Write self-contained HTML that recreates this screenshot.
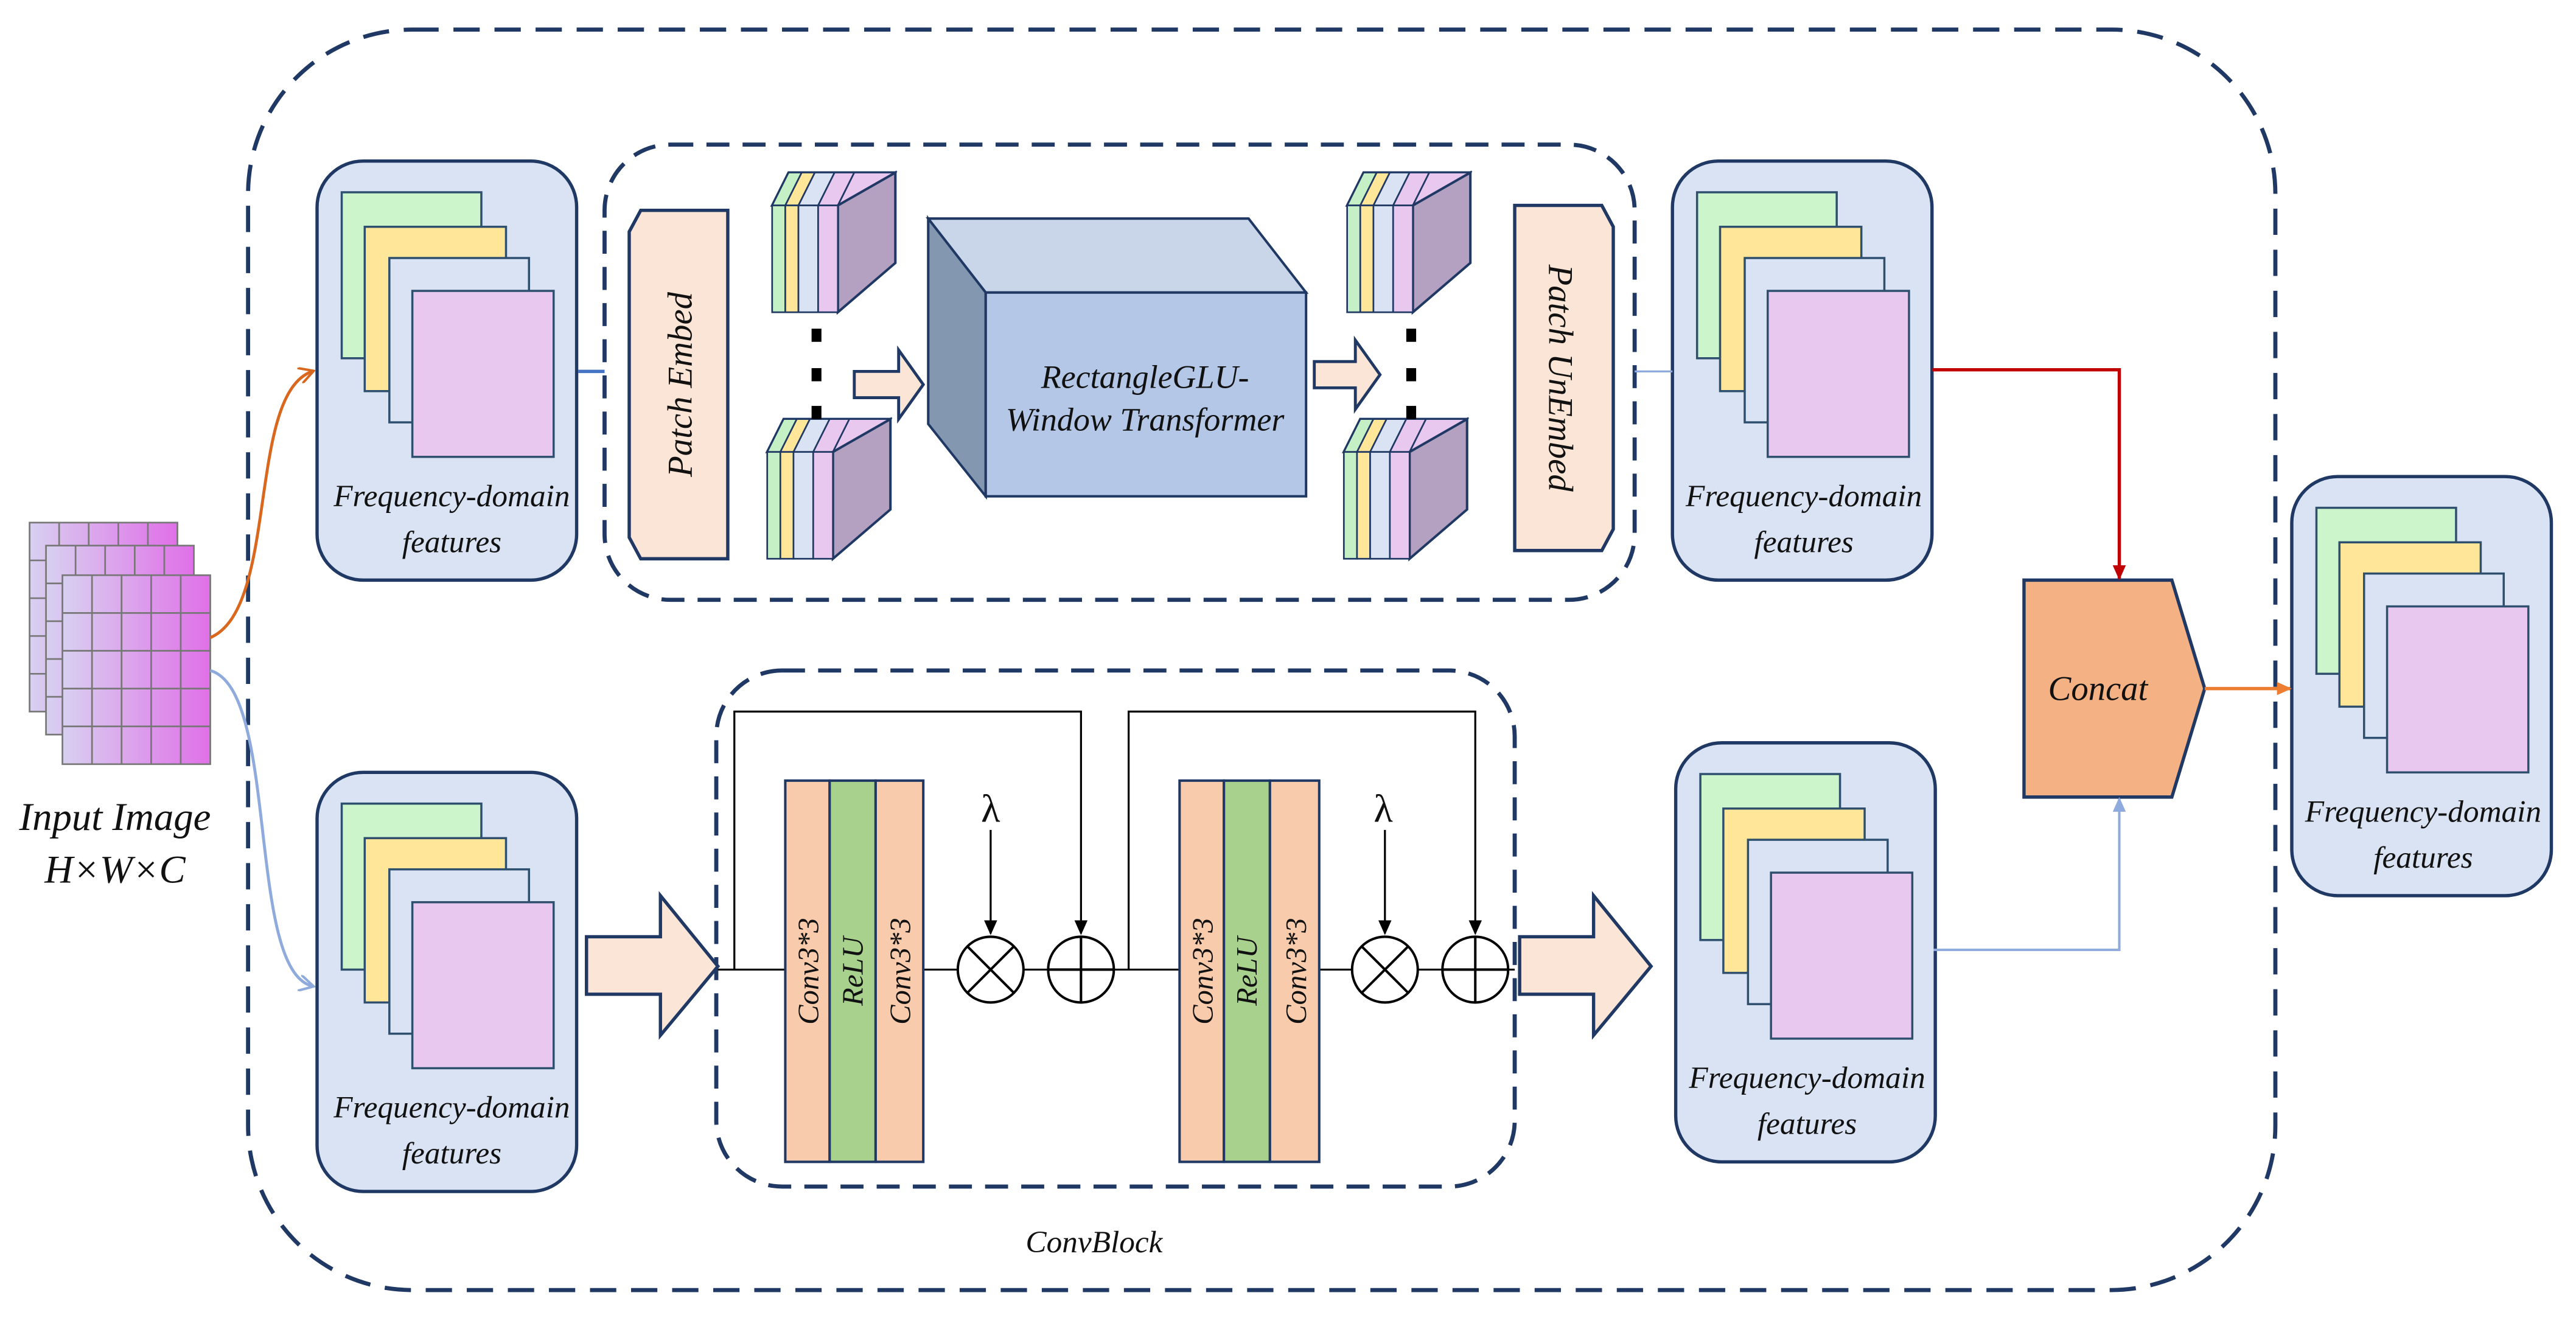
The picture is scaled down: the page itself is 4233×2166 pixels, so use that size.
<!DOCTYPE html>
<html><head><meta charset="utf-8"><style>
html,body{margin:0;padding:0;background:#fff;width:4233px;height:2166px;overflow:hidden}
svg{display:block}
text{font-family:"Liberation Serif",serif;font-style:italic;fill:#111}
</style></head><body>
<svg width="4233" height="2166" viewBox="0 0 1568 802" preserveAspectRatio="none">
<defs>
<marker id="ao" markerWidth="10" markerHeight="10" refX="8" refY="5" orient="auto" markerUnits="userSpaceOnUse"><path d="M0,0 L9,5 L0,10" fill="none" stroke="#d9681e" stroke-width="1.5"/></marker>
<marker id="ab" markerWidth="10" markerHeight="10" refX="8" refY="5" orient="auto" markerUnits="userSpaceOnUse"><path d="M0,0 L9,5 L0,10" fill="none" stroke="#8faadc" stroke-width="1.5"/></marker>
<marker id="ar" markerWidth="10" markerHeight="10" refX="8" refY="5" orient="auto" markerUnits="userSpaceOnUse"><path d="M0,1 L9,5 L0,9z" fill="#c00000"/></marker>
<marker id="ak" markerWidth="10" markerHeight="10" refX="8" refY="5" orient="auto" markerUnits="userSpaceOnUse"><path d="M0,1 L9,5 L0,9z" fill="#000"/></marker>
<marker id="abf" markerWidth="10" markerHeight="10" refX="8" refY="5" orient="auto" markerUnits="userSpaceOnUse"><path d="M0,1 L9,5 L0,9z" fill="#8faadc"/></marker>
<marker id="aof" markerWidth="10" markerHeight="10" refX="8" refY="5" orient="auto" markerUnits="userSpaceOnUse"><path d="M0,1 L9,5 L0,9z" fill="#ed7d31"/></marker>
<g id="feat">
<rect x="0" y="0" width="158" height="255" rx="28" fill="#dae3f3" stroke="#1f3864" stroke-width="2"/>
<rect x="15" y="19" width="85" height="101" fill="#ccf5cc" stroke="#2f4f6f" stroke-width="1.3"/>
<rect x="29" y="40" width="86" height="100" fill="#ffe699" stroke="#2f4f6f" stroke-width="1.3"/>
<rect x="44" y="59" width="85" height="100" fill="#dae3f3" stroke="#2f4f6f" stroke-width="1.3"/>
<rect x="58" y="79" width="86" height="101" fill="#e9c8f0" stroke="#2f4f6f" stroke-width="1.3"/>
</g>
<g id="cube">
<polygon points="0,20 10,0 75,0 65,20" fill="#ccc" stroke="#1f3864" stroke-width="1.5"/>
<polygon points="0,20 10,0 18,0 8,20" fill="#c5f0c5" stroke="#1f3864"/>
<polygon points="8,20 18,0 26,0 16,20" fill="#ffe699" stroke="#1f3864"/>
<polygon points="16,20 26,0 38,0 28,20" fill="#dae3f3" stroke="#1f3864"/>
<polygon points="28,20 38,0 50,0 40,20" fill="#e9c8f0" stroke="#1f3864"/>
<polygon points="40,20 50,0 75,0 65,20" fill="#e9c8f0" stroke="#1f3864"/>
<polygon points="40,20 75,0 75,55 40,85" fill="#b4a0c0" stroke="#1f3864" stroke-width="1.5"/>
<rect x="0" y="20" width="8" height="65" fill="#c5f0c5" stroke="#1f3864"/>
<rect x="8" y="20" width="8" height="65" fill="#ffe699" stroke="#1f3864"/>
<rect x="16" y="20" width="12" height="65" fill="#dae3f3" stroke="#1f3864"/>
<rect x="28" y="20" width="12" height="65" fill="#e9c8f0" stroke="#1f3864"/>
</g>
<linearGradient id="pg" x1="0" x2="1"><stop offset="0" stop-color="#d8d0f0"/><stop offset="1" stop-color="#e070e8"/></linearGradient>
<g id="grid">
<rect x="0" y="0" width="90" height="115" fill="url(#pg)" stroke="#777" stroke-width="1"/>
<path d="M18,0V115M36,0V115M54,0V115M72,0V115M0,23H90M0,46H90M0,69H90M0,92H90" stroke="#777" stroke-width="1"/>
</g>
</defs>

<!-- outer dashed -->
<rect x="151" y="18" width="1234" height="767" rx="100" fill="none" stroke="#1f3864" stroke-width="2.5" stroke-dasharray="16,9"/>
<rect x="368" y="88" width="627" height="277" rx="40" fill="none" stroke="#1f3864" stroke-width="2.5" stroke-dasharray="14,8"/>
<rect x="436" y="408" width="486" height="314" rx="40" fill="none" stroke="#1f3864" stroke-width="2.5" stroke-dasharray="14,8"/>

<!-- input image -->
<use href="#grid" x="18" y="318"/>
<use href="#grid" x="28" y="332"/>
<use href="#grid" x="38" y="350"/>
<text x="70" y="505" font-size="24" text-anchor="middle">Input Image</text>
<text x="70" y="537" font-size="24" text-anchor="middle">H×W×C</text>

<!-- curves -->
<path d="M128,388 C170,370 150,240 190,226" fill="none" stroke="#d9681e" stroke-width="1.8" marker-end="url(#ao)"/>
<path d="M128,408 C170,420 150,590 190,600" fill="none" stroke="#8faadc" stroke-width="1.8" marker-end="url(#ab)"/>

<!-- feature boxes -->
<use href="#feat" x="193" y="98"/>
<text x="275" y="308" font-size="19" text-anchor="middle">Frequency-domain</text>
<text x="275" y="336" font-size="19" text-anchor="middle">features</text>
<use href="#feat" x="193" y="470"/>
<text x="275" y="680" font-size="19" text-anchor="middle">Frequency-domain</text>
<text x="275" y="708" font-size="19" text-anchor="middle">features</text>
<use href="#feat" x="1018" y="98"/>
<text x="1098" y="308" font-size="19" text-anchor="middle">Frequency-domain</text>
<text x="1098" y="336" font-size="19" text-anchor="middle">features</text>
<use href="#feat" x="1020" y="452"/>
<text x="1100" y="662" font-size="19" text-anchor="middle">Frequency-domain</text>
<text x="1100" y="690" font-size="19" text-anchor="middle">features</text>
<use href="#feat" x="1395" y="290"/>
<text x="1475" y="500" font-size="19" text-anchor="middle">Frequency-domain</text>
<text x="1475" y="528" font-size="19" text-anchor="middle">features</text>

<line x1="352" y1="226" x2="368" y2="226" stroke="#4472c4" stroke-width="2"/>
<line x1="995" y1="226" x2="1018" y2="226" stroke="#8faadc" stroke-width="1.2"/>

<!-- patch embed -->
<polygon points="390,128 443,128 443,340 390,340 383,327 383,141" fill="#fbe5d6" stroke="#1f3864" stroke-width="2"/>
<text transform="translate(421,234) rotate(-90)" font-size="21" text-anchor="middle">Patch Embed</text>
<polygon points="922,125 975,125 982,138 982,322 975,335 922,335" fill="#fbe5d6" stroke="#1f3864" stroke-width="2"/>
<text transform="translate(943,230) rotate(90)" font-size="21" text-anchor="middle">Patch UnEmbed</text>

<!-- cubes -->
<use href="#cube" x="470" y="105"/>
<use href="#cube" x="467" y="255"/>
<use href="#cube" x="820" y="105"/>
<use href="#cube" x="818" y="255"/>
<rect x="494" y="200" width="6" height="8" fill="#000"/><rect x="494" y="224" width="6" height="8" fill="#000"/><rect x="494" y="247" width="6" height="8" fill="#000"/>
<rect x="856" y="200" width="6" height="8" fill="#000"/><rect x="856" y="224" width="6" height="8" fill="#000"/><rect x="856" y="247" width="6" height="8" fill="#000"/>

<!-- small arrows -->
<polygon points="520,226 547,226 547,213 562,234 547,255 547,242 520,242" fill="#fbe5d6" stroke="#1f3864" stroke-width="1.8"/>
<polygon points="800,220 825,220 825,207 840,228 825,249 825,236 800,236" fill="#fbe5d6" stroke="#1f3864" stroke-width="1.8"/>

<!-- big 3D box -->
<polygon points="565,133 760,133 795,178 600,178" fill="#c9d6ea" stroke="#1f3864" stroke-width="1.5"/>
<polygon points="565,133 600,178 600,302 565,258" fill="#8497b0" stroke="#1f3864" stroke-width="1.5"/>
<rect x="600" y="178" width="195" height="124" fill="#b4c7e7" stroke="#1f3864" stroke-width="1.5"/>
<text x="697" y="236" font-size="20" text-anchor="middle">RectangleGLU-</text>
<text x="697" y="262" font-size="20" text-anchor="middle">Window Transformer</text>

<!-- concat -->
<polygon points="1232,353 1322,353 1342,419 1322,485 1232,485" fill="#f4b183" stroke="#1f3864" stroke-width="2"/>
<text x="1277" y="426" font-size="21" text-anchor="middle">Concat</text>
<polyline points="1176,225 1290,225 1290,352" fill="none" stroke="#c00000" stroke-width="2" marker-end="url(#ar)"/>
<polyline points="1177,578 1290,578 1290,486" fill="none" stroke="#8faadc" stroke-width="1.5" marker-end="url(#abf)"/>
<line x1="1342" y1="419" x2="1394" y2="419" stroke="#ed7d31" stroke-width="2" marker-end="url(#aof)"/>

<!-- conv block -->
<polygon points="357,570 402,570 402,545 437,588 402,630 402,605 357,605" fill="#fbe5d6" stroke="#1f3864" stroke-width="2"/>
<polygon points="925,570 970,570 970,545 1005,588 970,630 970,605 925,605" fill="#fbe5d6" stroke="#1f3864" stroke-width="2"/>
<line x1="437" y1="590" x2="922" y2="590" stroke="#000" stroke-width="1.2"/>
<polyline points="447,590 447,433 658,433 658,568" fill="none" stroke="#000" stroke-width="1.2" marker-end="url(#ak)"/>
<polyline points="687,590 687,433 898,433 898,568" fill="none" stroke="#000" stroke-width="1.2" marker-end="url(#ak)"/>

<g stroke="#1f3864" stroke-width="1.5">
<rect x="478" y="475" width="27" height="232" fill="#f8cbad"/>
<rect x="505" y="475" width="28" height="232" fill="#a9d18e"/>
<rect x="533" y="475" width="29" height="232" fill="#f8cbad"/>
<rect x="718" y="475" width="27" height="232" fill="#f8cbad"/>
<rect x="745" y="475" width="28" height="232" fill="#a9d18e"/>
<rect x="773" y="475" width="30" height="232" fill="#f8cbad"/>
</g>
<text transform="translate(498,591) rotate(-90)" font-size="18" text-anchor="middle">Conv3*3</text>
<text transform="translate(525,591) rotate(-90)" font-size="18" text-anchor="middle">ReLU</text>
<text transform="translate(554,591) rotate(-90)" font-size="18" text-anchor="middle">Conv3*3</text>
<text transform="translate(738,591) rotate(-90)" font-size="18" text-anchor="middle">Conv3*3</text>
<text transform="translate(765,591) rotate(-90)" font-size="18" text-anchor="middle">ReLU</text>
<text transform="translate(795,591) rotate(-90)" font-size="18" text-anchor="middle">Conv3*3</text>

<g fill="#fff" stroke="#000" stroke-width="1.5">
<circle cx="603" cy="590" r="20"/><circle cx="658" cy="590" r="20"/>
<circle cx="843" cy="590" r="20"/><circle cx="898" cy="590" r="20"/>
<path d="M589,576L617,604M617,576L589,604M638,590H678M658,570V610M829,576L857,604M857,576L829,604M878,590H918M898,570V610" fill="none"/>
</g>
<text x="603" y="500" font-size="24" text-anchor="middle" style="font-style:normal">λ</text>
<text x="842" y="500" font-size="24" text-anchor="middle" style="font-style:normal">λ</text>
<line x1="603" y1="505" x2="603" y2="568" stroke="#000" stroke-width="1.2" marker-end="url(#ak)"/>
<line x1="843" y1="505" x2="843" y2="568" stroke="#000" stroke-width="1.2" marker-end="url(#ak)"/>
<text x="666" y="762" font-size="19" text-anchor="middle">ConvBlock</text>
</svg>
</body></html>
